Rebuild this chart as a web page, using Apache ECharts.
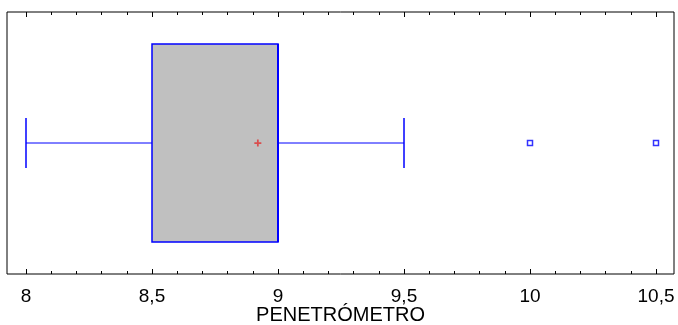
<!DOCTYPE html>
<html>
<head>
<meta charset="utf-8">
<script src="https://cdn.jsdelivr.net/npm/echarts@6/dist/echarts.min.js"></script>
<style>html,body{margin:0;padding:0;background:#fff}#c{width:678px;height:325px}</style>
</head>
<body>
<div id="c"></div>
<script>
// Data
const axisName = 'PENETRÓMETRO';
const boxStats = [8, 8.5, 9, 9, 9.5]; // lower whisker, Q1, median, Q3, upper whisker
const meanValue = 8.92;
const outliers = [10, 10.5];
const majorTicks = [8, 8.5, 9, 9.5, 10, 10.5];
const minorTicks = [8.1, 8.2, 8.3, 8.4, 8.6, 8.7, 8.8, 8.9, 9.1, 9.2, 9.3, 9.4, 9.6, 9.7, 9.8, 9.9, 10.1, 10.2, 10.3, 10.4];
const axisMin = 7.9246, axisMax = 10.5714;

const chart = echarts.init(document.getElementById('c'), null, {renderer: 'canvas'});
const fmt = v => String(v).replace('.', ',');
const FONT = 'Liberation Sans, Arial, sans-serif';

function mkAxis(pos, ticks, len, withLabels) {
  return {
    type: 'value', position: pos, min: axisMin, max: axisMax, gridIndex: 0,
    axisLine: {show: false}, splitLine: {show: false},
    axisTick: {show: true, inside: true, length: len, customValues: ticks, lineStyle: {color: '#000', width: 1}},
    axisLabel: withLabels ? {show: true, customValues: ticks, formatter: fmt, color: '#000', fontSize: 19, fontFamily: FONT, margin: 13} : {show: false},
    name: withLabels ? axisName : '',
    nameLocation: 'middle', nameGap: 31, nameMoveOverlap: false,
    nameTextStyle: {color: '#000', fontSize: 20, fontFamily: FONT}
  };
}

const option = {
  animation: false,
  grid: {left: 7, right: 4, top: 12, bottom: 51, outerBoundsMode: 'none', containLabel: false, show: true, borderColor: '#000', borderWidth: 1, backgroundColor: 'transparent'},
  xAxis: [
    mkAxis('bottom', majorTicks, 5, true),
    mkAxis('bottom', minorTicks, 3, false),
    mkAxis('top', majorTicks, 5, false),
    mkAxis('top', minorTicks, 3, false)
  ],
  yAxis: {type: 'value', min: 0, max: 1, show: false},
  series: [
    {
      type: 'custom', xAxisIndex: 0,
      data: [boxStats],
      renderItem: function (params, api) {
        const y = api.coord([0, 0.5])[1];
        const xs = [0, 1, 2, 3, 4].map(i => api.coord([api.value(i), 0.5])[0]);
        const boxH = 99, capH = 25;
        const blue = '#0000ff';
        return {
          type: 'group',
          children: [
            {type: 'line', shape: {x1: xs[0], y1: y, x2: xs[1], y2: y}, style: {stroke: blue, lineWidth: 1}},
            {type: 'line', shape: {x1: xs[3], y1: y, x2: xs[4], y2: y}, style: {stroke: blue, lineWidth: 1}},
            {type: 'line', shape: {x1: xs[0], y1: y - capH, x2: xs[0], y2: y + capH}, style: {stroke: blue, lineWidth: 1.5}},
            {type: 'line', shape: {x1: xs[4], y1: y - capH, x2: xs[4], y2: y + capH}, style: {stroke: blue, lineWidth: 1.5}},
            {type: 'rect', shape: {x: xs[1], y: y - boxH, width: xs[3] - xs[1], height: 2 * boxH}, style: {fill: '#c0c0c0', stroke: blue, lineWidth: 1.5}},
            {type: 'line', shape: {x1: xs[2], y1: y - boxH, x2: xs[2], y2: y + boxH}, style: {stroke: blue, lineWidth: 2}}
          ]
        };
      }
    },
    {
      type: 'scatter', xAxisIndex: 0,
      data: [[meanValue, 0.5]],
      symbol: 'path://M3,0L5,0L5,3L8,3L8,5L5,5L5,8L3,8L3,5L0,5L0,3L3,3Z',
      symbolSize: 7,
      itemStyle: {color: '#e03030'}
    },
    {
      type: 'scatter', xAxisIndex: 0,
      data: outliers.map(v => [v, 0.5]),
      symbol: 'rect', symbolSize: 5,
      itemStyle: {color: '#ffffff', borderColor: '#0000ff', borderWidth: 1.5}
    }
  ]
};
chart.setOption(option);
</script>
</body>
</html>
